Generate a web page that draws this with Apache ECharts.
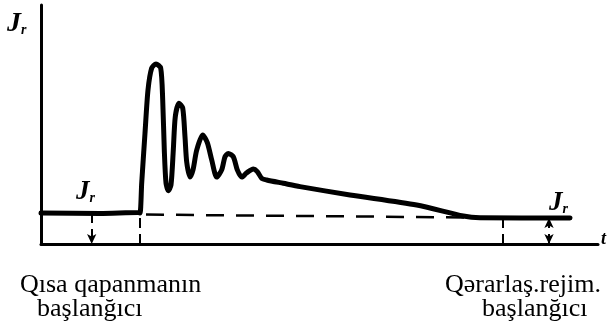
<!DOCTYPE html>
<html><head><meta charset="utf-8">
<script src="https://cdn.jsdelivr.net/npm/echarts@6/dist/echarts.min.js"></script>
<style>html,body{margin:0;padding:0;background:#fff}#c{width:609px;height:334px}</style>
</head><body><div id="c"></div>
<script>
// time (arbitrary units) and current I_r (arbitrary units)
const curveT = [0,5.9,9.7,9.9,10.07,10.4,10.7,11.07,11.5,11.97,12.17,12.33,12.5,12.73,13.0,13.23,13.43,13.8,14.17,14.4,14.57,14.9,15.2,15.57,16.17,16.63,17.07,17.57,18.07,18.4,18.73,19.23,19.63,20.07,20.57,21.23,21.63,22.07,22.57,24.23,25.9,30.9,37.57,42.23,43.9,52.9];
const curveI = [13.0,12.8,13.2,13.0,25.5,46.4,64.4,73.6,75.3,73.6,60.3,39.3,25.5,22.3,24.7,39.3,53.3,58.9,56.9,44.8,34.3,28.0,31.0,39.3,45.6,42.4,35.2,28.0,31.0,36.5,37.9,36.5,31.0,28.0,29.8,31.4,30.3,27.5,26.8,25.4,24.0,20.5,16.3,11.7,11.0,10.9];
const dashT = [10.5,43.0];
const dashI = [12.3,11.1];
const shortCircuitT = 9.9;   // start of short circuit
const steadyT = 46.2;        // start of steady state
const arrowLeftT = 5.07, arrowLeftI = 13.0;
const arrowRightT = 50.8, arrowRightI = 10.9;
const textLeft = ['Qısa qapanmanın', 'başlanğıcı'];
const textRight = ['Qərarlaş.rejim.', 'başlanğıcı'];

const chart = echarts.init(document.getElementById('c'), null, {renderer:'canvas'});
const zip = (a,b)=>a.map((v,i)=>[v,b[i]]);
const dashStyle = {color:'#000', width:2, type:[10,6]};
const jr = (left, top, size) => ({type:'text', left, top, style:{text:'{a|J}{b|r}', rich:{
  a:{fontFamily:'Liberation Serif', fontStyle:'italic', fontWeight:'bold', fontSize:size, fill:'#000'},
  b:{fontFamily:'Liberation Serif', fontStyle:'italic', fontWeight:'bold', fontSize:Math.round(size*0.5), fill:'#000', padding:[Math.round(size*0.45),0,0,0]}}}});
const txt = (left, top, s) => ({type:'text', left, top, style:{text:s, fontFamily:'Liberation Serif', fontSize:26, fill:'#000'}});
chart.setOption({
  animation:false,
  backgroundColor:'#fff',
  grid:{left:41, right:11, top:5, bottom:90},
  xAxis:{type:'value', min:0, max:55.7, axisLine:{show:true, onZero:false, lineStyle:{color:'#000', width:3}},
         axisTick:{show:false}, axisLabel:{show:false}, splitLine:{show:false}},
  yAxis:{type:'value', min:0, max:100, axisLine:{show:true, onZero:false, lineStyle:{color:'#000', width:3}},
         axisTick:{show:false}, axisLabel:{show:false}, splitLine:{show:false}},
  series:[
    {type:'line', data:zip(dashT,dashI), symbol:'none', lineStyle:{color:'#000', width:2.5, type:[18,12]}, silent:true,
     markLine:{silent:true, symbol:['none','none'], label:{show:false}, lineStyle:dashStyle,
       data:[
         [{coord:[shortCircuitT,0]},{coord:[shortCircuitT,curveI[3]]}],
         [{coord:[steadyT,0]},{coord:[steadyT,arrowRightI]}],
         [{coord:[arrowLeftT,arrowLeftI],symbol:'none'},{coord:[arrowLeftT,0],symbol:'arrow',symbolSize:[7,10]}],
         [{coord:[arrowRightT,0],symbol:'arrow',symbolSize:[7,10]},{coord:[arrowRightT,arrowRightI],symbol:'arrow',symbolSize:[7,10]}]
       ]}},
    {type:'line', data:zip(curveT,curveI), symbol:'none', smooth:0.25, lineStyle:{color:'#000', width:5, cap:'round', join:'round'}}
  ],
  graphic:[
    jr(7, 10, 28), jr(76, 179, 27), jr(549, 190, 27),
    {type:'text', left:601, top:230, style:{text:'t', fontFamily:'Liberation Serif', fontStyle:'italic', fontWeight:'bold', fontSize:18, fill:'#000'}},
    txt(20, 272, textLeft[0]), txt(37, 296, textLeft[1]),
    txt(445, 272, textRight[0]), txt(482, 296, textRight[1])
  ]
});
</script></body></html>
